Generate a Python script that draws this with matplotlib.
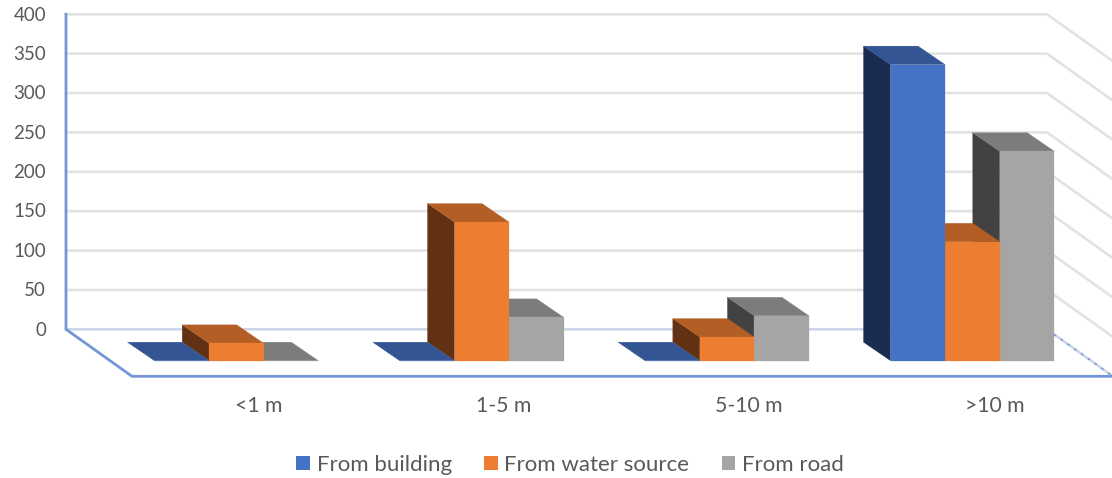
import matplotlib
matplotlib.use("Agg")
import matplotlib.pyplot as plt
from matplotlib.patches import Patch, Polygon

categories = ["<1 m", "1-5 m", "5-10 m", ">10 m"]
series_names = ["From building", "From water source", "From road"]
from_building = [0, 0, 0, 376]
from_water = [22, 176, 30, 151]
from_road = [0, 55, 57, 266]
y_ticks = [0, 50, 100, 150, 200, 250, 300, 350, 400]

front_colors = ["#4472c4", "#ed7d31", "#a5a5a5"]
side_colors = ["#1a2c50", "#623113", "#424242"]
top_colors = ["#335593", "#b25e25", "#7c7c7c"]
GRID = "#e2e2e2"
AXIS = "#7396d6"
TEXT = "#595959"

plt.rcParams["font.family"] = ["Lato", "DejaVu Sans"]

W, H = 1112, 478
fig = plt.figure(figsize=(W / 100, H / 100), dpi=100)
ax = fig.add_axes([0, 0, 1, 1])
# x is in category steps, y in value units on the back wall
step_px, unit_px = 245.3, 0.7875
ax.set_xlim(-236.5 / step_px, (W - 236.5) / step_px)
ax.set_ylim((329.3 - H) / unit_px, 329.3 / unit_px)
ax.axis("off")

# oblique projection: depth offsets in data units
bar_w = 54.6 / step_px
bar_dx, bar_dy = 27 / step_px, 18.5 / unit_px
base_y = -31.4 / unit_px
floor_dx, floor_dy = 66 / step_px, 47 / unit_px
wall_l, wall_r = (66 - 236.5) / step_px, (1047 - 236.5) / step_px

for v in y_ticks:
    color = "#cdd6e8" if v == 0 else GRID
    ax.plot([wall_l, wall_r, wall_r + floor_dx], [v, v, v - floor_dy], color=color, lw=1.9, zorder=1,
            solid_joinstyle="miter")
    ax.text(wall_l - 20 / step_px, v - 1, str(v), ha="right", va="center", fontsize=13.5, color=TEXT)

# blue axis lines: left edge, floor edge, dotted right floor edge
ax.plot([wall_l, wall_l, wall_l + floor_dx, wall_r + floor_dx + 0.1],
        [400, 0, -floor_dy, -floor_dy], color=AXIS, lw=2, zorder=2, solid_joinstyle="miter")
ax.plot([wall_r, wall_r + floor_dx], [0, -floor_dy], color=AXIS, lw=1, ls=(0, (2, 4)), zorder=1.5)


def draw_bar(x, value, s):
    y0, y1 = base_y, base_y + value
    side = [(x, y0), (x - bar_dx, y0 + bar_dy), (x - bar_dx, y1 + bar_dy), (x, y1)]
    top = [(x, y1), (x - bar_dx, y1 + bar_dy), (x + bar_w - bar_dx, y1 + bar_dy), (x + bar_w, y1)]
    front = [(x, y0), (x, y1), (x + bar_w, y1), (x + bar_w, y0)]
    for pts, col in ((side, side_colors[s]), (top, top_colors[s]), (front, front_colors[s])):
        ax.add_patch(Polygon(pts, closed=True, fc=col, ec=col, lw=0.2, zorder=3))


series = [from_building, from_water, from_road]
for i, cat in enumerate(categories):
    # paint right to left so nearer faces cover the sides behind them
    for s in (2, 1, 0):
        draw_bar(i + (s - 1.5) * bar_w, series[s][i], s)
    ax.text(i + 22 / step_px, -98, cat, ha="center", va="center", fontsize=15.2, color=TEXT)

handles = [Patch(fc=c, ec="none") for c in front_colors]
ax.legend(handles, series_names, loc="center", bbox_to_anchor=(570 / W, 1 - 465 / H), ncol=3, frameon=False,
          fontsize=16, labelcolor=TEXT, handlelength=0.62, handleheight=0.62, handletextpad=0.3,
          columnspacing=1.45, borderpad=0)

fig.savefig("out.png", dpi=100)
